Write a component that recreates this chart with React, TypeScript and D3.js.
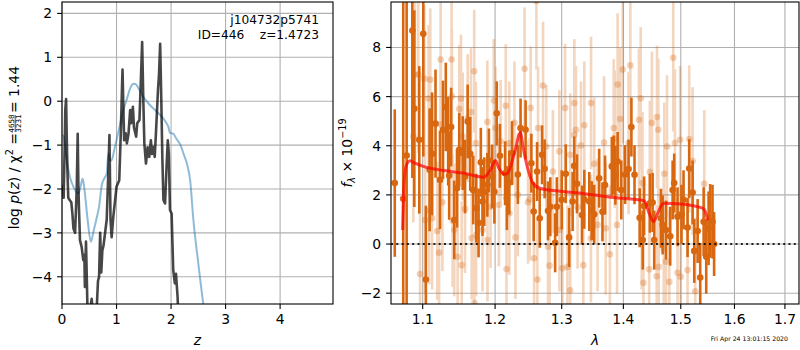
import React from "react";
import * as d3 from "d3";

// ---- left panel: log p(z) ----
const zBlack = [0.01, 0.03, 0.05, 0.06, 0.075, 0.085, 0.1, 0.115, 0.14, 0.17, 0.19, 0.21, 0.24, 0.255, 0.27, 0.288, 0.3, 0.31, 0.33, 0.36, 0.39, 0.41, 0.42, 0.44, 0.465, 0.49, 0.52, 0.545, 0.57, 0.6, 0.63, 0.66, 0.68, 0.7, 0.72, 0.74, 0.76, 0.8, 0.82, 0.85, 0.87, 0.89, 0.91, 0.94, 0.97, 1.0, 1.05, 1.08, 1.1, 1.11, 1.125, 1.14, 1.17, 1.19, 1.22, 1.25, 1.27, 1.3, 1.32, 1.36, 1.38, 1.42, 1.44, 1.47, 1.49, 1.51, 1.54, 1.57, 1.6, 1.63, 1.65, 1.68, 1.7, 1.72, 1.76, 1.78, 1.8, 1.82, 1.84, 1.86, 1.89, 1.92, 1.94, 1.96, 1.98, 2.01, 2.04, 2.07, 2.09, 2.12, 2.14];
const lnpBlack = [-1.9, -2.2, -1.0, -0.2, 0.05, -0.7, -1.6, -2.2, -2.25, -2.3, -2.55, -2.9, -3.0, -2.5, -2.0, -0.74, -1.9, -2.4, -3.17, -3.32, -3.62, -3.5, -4.23, -3.2, -4.6, -5.0, -4.7, -4.5, -4.9, -4.8, -4.9, -4.1, -4.0, -3.0, -3.9, -3.4, -3.3, -2.9, -2.7, -1.6, -0.77, -2.7, -3.1, -2.64, -2.3, -1.95, -1.8, -0.66, 0.3, 0.72, -0.13, -0.89, -0.73, -0.96, -0.74, -0.2, -0.5, -0.13, -0.6, -0.81, -0.5, -0.43, 0.25, 1.35, 0.1, -0.96, -1.42, -1.05, -1.27, -0.89, -1.2, -1.04, -1.27, -0.8, 0.25, 0.63, 1.31, 0.1, -1.27, -2.25, -2.33, -1.42, -0.89, -1.2, -2.48, -2.56, -3.85, -4.15, -3.93, -4.46, -5.2];

const zBlue = [0.01, 0.03, 0.086, 0.15, 0.21, 0.3, 0.34, 0.38, 0.42, 0.47, 0.53, 0.58, 0.64, 0.68, 0.73, 0.78, 0.82, 0.85, 0.88, 0.91, 0.96, 1.0, 1.06, 1.125, 1.19, 1.25, 1.29, 1.32, 1.36, 1.4, 1.49, 1.6, 1.74, 1.85, 1.92, 1.95, 1.98, 2.04, 2.1, 2.17, 2.23, 2.29, 2.35, 2.41, 2.5, 2.59, 2.7];
const lnpBlue = [-0.77, -0.8, -1.34, -1.75, -1.95, -2.1, -1.95, -1.76, -2.1, -2.7, -3.2, -2.95, -2.64, -2.4, -1.91, -1.75, -1.65, -1.19, -1.35, -1.34, -1.1, -0.89, -0.55, -0.2, 0.05, 0.29, 0.38, 0.4, 0.38, 0.3, 0.1, -0.07, -0.24, -0.38, -0.51, -0.58, -0.72, -0.74, -0.86, -0.99, -1.2, -1.42, -1.8, -2.71, -3.7, -4.61, -5.5];

const zTicks = [0, 1, 2, 3, 4];
const pTicks = [2, 1, 0, -1, -2, -3, -4];

// ---- right panel: spectrum ----
const darkWave = [1.0637, 1.0746, 1.079, 1.0864, 1.089, 1.0955, 1.1008, 1.1042, 1.1092, 1.1125, 1.1171, 1.1231, 1.1272, 1.131, 1.1342, 1.1356, 1.1383, 1.1425, 1.1463, 1.1494, 1.1542, 1.1574, 1.1611, 1.1647, 1.1689, 1.1731, 1.1764, 1.1796, 1.182, 1.1845, 1.1889, 1.1911, 1.1958, 1.199, 1.2024, 1.207, 1.2145, 1.2171, 1.2206, 1.2247, 1.2333, 1.2373, 1.2448, 1.2535, 1.257, 1.2621, 1.2661, 1.2697, 1.2736, 1.2788, 1.2823, 1.2898, 1.2924, 1.3, 1.3064, 1.3117, 1.3172, 1.3197, 1.3241, 1.3321, 1.3358, 1.3438, 1.3477, 1.3518, 1.3599, 1.3653, 1.3695, 1.3807, 1.3839, 1.3866, 1.3904, 1.3965, 1.403, 1.4088, 1.4136, 1.4189, 1.4277, 1.433, 1.4353, 1.4453, 1.4501, 1.4529, 1.4647, 1.4677, 1.4736, 1.4811, 1.4854, 1.4882, 1.4942, 1.5013, 1.505, 1.5123, 1.5153, 1.5215, 1.5245, 1.5307, 1.5355, 1.5418, 1.5466, 1.551, 1.5539, 1.5583, 1.5613];
const darkFlux = [2.48, 1.84, 3.6, 8.69, 5.51, 4.24, 8.56, -1.44, 3.02, 3.67, 4.9, 2.61, 4.65, 5.58, 4.18, 2.79, 4.76, 0.98, 2.27, 3.84, 3.7, 2.75, 4.99, 3.67, 2.2, 1.46, 0.86, 3.33, 1.73, 2.13, 2.41, 3.4, 2.75, 2.13, 5.32, 3.59, 2.88, 1.87, 2.5, 3.7, 2.83, 4.72, 4.65, 3.29, 1.32, 2.95, 1.05, 3.63, 3.06, 1.35, 1.52, 0.05, 1.52, 1.8, 2.86, 0.27, 1.73, 3.18, 2.45, 1.18, 1.82, 1.73, 1.36, 1.21, 2.68, 1.31, 2.4, 3.16, 3.22, 2.8, 3.36, 2.2, 2.83, 3.05, 4.76, 2.82, 1.07, 0.16, 1.55, 1.66, 1.69, 0.16, 1.05, 0.78, 0.57, 0.32, 2.2, 2.48, 1.11, 1.21, 1.8, 0.67, 3.07, 2.1, -0.28, 0.53, -1.36, 0.91, -0.52, 0.64, 0.94, 0.91, 0.0];
const darkErr = [3.0, 8, 7, 6, 4, 3, 5, 3, 2.5, 2.5, 2.2, 2, 2, 1.8, 1.8, 1.8, 1.6, 1.6, 1.6, 1.5, 1.5, 1.5, 1.5, 1.5, 1.4, 1.4, 1.4, 1.4, 1.4, 1.4, 1.3, 1.3, 1.3, 1.3, 1.3, 1.3, 1.3, 1.3, 1.3, 1.3, 1.2, 1.2, 1.2, 1.2, 1.2, 1.2, 1.2, 1.2, 1.2, 1.2, 1.2, 1.2, 1.2, 1.2, 1.2, 1.2, 1.2, 1.2, 1.2, 1.2, 1.2, 1.2, 1.2, 1.2, 1.2, 1.2, 1.2, 1.2, 1.2, 1.2, 1.2, 1.2, 1.2, 1.2, 1.2, 1.2, 1.2, 1.2, 1.2, 1.2, 1.2, 1.2, 1.2, 1.2, 1.2, 1.2, 1.2, 1.2, 1.2, 1.2, 1.2, 1.2, 1.2, 1.3, 1.3, 1.3, 1.4, 1.4, 1.5, 1.5, 1.5, 1.5, 1.3];

const lightWave = [1.0877, 1.0899, 1.0942, 1.0965, 1.1022, 1.1032, 1.1078, 1.1085, 1.1101, 1.1125, 1.1194, 1.1219, 1.124, 1.1242, 1.1264, 1.1389, 1.1393, 1.1403, 1.1425, 1.1472, 1.1494, 1.1518, 1.1528, 1.1542, 1.1574, 1.1611, 1.1657, 1.1667, 1.1703, 1.1705, 1.1726, 1.1728, 1.182, 1.1889, 1.1891, 1.1935, 1.1981, 1.2005, 1.2055, 1.208, 1.2155, 1.2166, 1.2206, 1.2208, 1.2282, 1.2297, 1.2333, 1.2433, 1.2485, 1.2509, 1.2524, 1.2576, 1.2611, 1.2626, 1.2636, 1.2712, 1.2762, 1.2788, 1.2812, 1.2863, 1.2963, 1.2965, 1.3011, 1.3053, 1.309, 1.3133, 1.3135, 1.3197, 1.3199, 1.3224, 1.3251, 1.3305, 1.3342, 1.3358, 1.3465, 1.3467, 1.3518, 1.3573, 1.3679, 1.3706, 1.3775, 1.3839, 1.3855, 1.3894, 1.3904, 1.3947, 1.399, 1.4088, 1.4118, 1.4265, 1.4295, 1.4312, 1.4325, 1.4342, 1.4441, 1.4453, 1.4489, 1.4572, 1.4577, 1.46, 1.4607, 1.4695, 1.4706, 1.4736, 1.4754, 1.4794, 1.4865, 1.4895, 1.4942, 1.4988, 1.5, 1.5123, 1.5153, 1.5215, 1.5263, 1.5429];
const lightFlux = [4.38, 6.9, 6.9, -1.22, 6.73, 0.98, 5.92, 1.36, 6.69, 1.05, 0.53, -0.35, 7.51, 4.86, 1.7, 7.51, 6.01, 0.95, 0.57, -0.52, 5.5, 5.92, -0.86, 4.38, 1.42, 5.13, 5.37, 0.24, 7.03, -2.4, 4.11, 0.37, 0.57, 4.97, 0.16, 1.52, 5.84, 4.72, 1.59, 4.18, 5.63, -1.02, 4.11, 1.25, 4.93, 0.27, 2.0, 7.13, 1.7, 1.82, 5.54, -0.58, 9.89, -1.44, 4.72, 6.45, 3.97, -0.11, -0.88, 2.95, 3.77, 0.57, -0.99, 5.54, -0.93, -1.88, 3.63, 4.45, 5.74, 4.65, 1.5, 4.01, -0.86, 4.83, 0.23, 5.74, 3.27, 0.78, 4.13, 0.64, -0.42, 4.72, 4.27, 0.78, 6.49, 5.09, 7.1, 4.11, 7.27, 5.06, 5.93, 1.05, 2.48, -1.58, -1.03, 2.93, 4.93, -1.31, 5.17, 4.65, -0.93, -0.19, 2.86, -0.72, 3.97, -1.54, 7.58, 4.11, -1.17, 4.24, -1.33, -1.06, 4.27, 3.38, -1.92, 2.45];
const lightErr = [3.5, 3.5, 3.2, 3.2, 3.0, 3.0, 3.0, 3.0, 2.9, 2.9, 2.8, 2.8, 2.8, 2.8, 2.8, 2.7, 2.7, 2.7, 2.7, 2.6, 2.6, 2.6, 2.6, 2.6, 2.6, 2.6, 2.6, 2.5, 2.5, 2.5, 2.5, 2.5, 2.5, 2.5, 2.5, 2.5, 2.5, 2.5, 2.5, 2.5, 2.5, 2.5, 2.5, 2.5, 2.5, 2.5, 2.5, 2.5, 2.5, 2.5, 2.5, 2.5, 2.8, 2.5, 2.5, 2.6, 2.5, 2.5, 2.5, 2.5, 2.5, 2.5, 2.5, 2.6, 2.5, 2.5, 2.5, 2.6, 2.6, 2.6, 2.5, 2.6, 2.6, 2.6, 2.6, 2.7, 2.7, 2.7, 2.7, 2.7, 2.8, 2.8, 2.8, 2.8, 2.9, 2.9, 3.0, 2.9, 3.0, 2.9, 2.9, 2.9, 2.9, 2.9, 2.9, 2.9, 2.9, 2.9, 2.9, 2.9, 2.9, 2.9, 2.9, 2.9, 2.9, 2.9, 3.0, 3.0, 3.0, 3.0, 3.0, 3.0, 3.0, 3.0, 3.0, 3.0];

const modelWave = [1.0738, 1.0755, 1.0781, 1.0834, 1.0899, 1.1008, 1.1286, 1.1564, 1.1834, 1.1935, 1.2005, 1.2055, 1.213, 1.2182, 1.2282, 1.2373, 1.2409, 1.2485, 1.256, 1.2661, 1.2939, 1.3305, 1.3839, 1.4353, 1.4441, 1.4518, 1.4589, 1.4647, 1.4706, 1.5, 1.5399, 1.546, 1.5491];
const modelFlux = [0.57, 2.34, 3.16, 3.39, 3.29, 3.16, 2.99, 2.88, 2.72, 3.02, 3.4, 3.09, 2.84, 2.88, 3.7, 4.55, 3.97, 3.02, 2.48, 2.27, 2.16, 2.07, 1.89, 1.76, 1.25, 0.91, 1.25, 1.55, 1.66, 1.63, 1.46, 1.25, 0.98];

const lamTicks = [1.1, 1.2, 1.3, 1.4, 1.5, 1.6, 1.7];
const fTicks = [-2, 0, 2, 4, 6, 8];

const FONT = "DejaVu Sans, sans-serif";
const ORANGE = "#d8670f";
const fmt = (v: number) => (v < 0 ? "\u2212" + Math.abs(v) : String(v));

export default function App() {
  const L = { left: 62, right: 333, top: 2, bottom: 304 };
  const R = { left: 391, right: 799, top: 2, bottom: 304 };

  const zx = d3.scaleLinear().domain([0, 4.97]).range([L.left, L.right]);
  const py = d3.scaleLinear().domain([-4.62, 2.26]).range([L.bottom, L.top]);
  const lx = d3.scaleLog().domain([1.0589, 1.729]).range([R.left, R.right]);
  const fy = d3.scaleLinear().domain([-2.44, 9.85]).range([R.bottom, R.top]);

  const blackLine = d3.line<number>().x((d, i) => zx(zBlack[i])).y((d) => py(d));
  const blueLine = d3.line<number>().x((d, i) => zx(zBlue[i])).y((d) => py(d)).curve(d3.curveMonotoneX);
  const modelLine = d3.line<number>().x((d, i) => lx(modelWave[i])).y((d) => fy(d)).curve(d3.curveMonotoneX);

  const tickLen = 4.9;

  return (
    <div style={{ position: "absolute", left: 0, top: 0 }}>
      <svg width={800} height={350} style={{ display: "block" }} fontFamily={FONT}>
        <defs>
          <clipPath id="clipL">
            <rect x={L.left} y={L.top} width={L.right - L.left} height={L.bottom - L.top} />
          </clipPath>
          <clipPath id="clipR">
            <rect x={R.left} y={R.top} width={R.right - R.left} height={R.bottom - R.top} />
          </clipPath>
        </defs>

        {/* left panel */}
        <g>
          {zTicks.map((t) => (
            <line key={"gzx" + t} x1={zx(t)} x2={zx(t)} y1={L.top} y2={L.bottom} stroke="#b0b0b0" strokeWidth={1.1} />
          ))}
          {pTicks.map((t) => (
            <line key={"gpy" + t} x1={L.left} x2={L.right} y1={py(t)} y2={py(t)} stroke="#b0b0b0" strokeWidth={1.1} />
          ))}
          <g clipPath="url(#clipL)">
            <path d={blueLine(lnpBlue) || ""} fill="none" stroke="#1f77b4" strokeOpacity={0.5} strokeWidth={2} />
            <path d={blackLine(lnpBlack) || ""} fill="none" stroke="#000" strokeOpacity={0.72} strokeWidth={2.6} strokeLinejoin="round" />
          </g>
          <rect x={L.left} y={L.top} width={L.right - L.left} height={L.bottom - L.top} fill="none" stroke="#000" strokeWidth={1.1} />
          {zTicks.map((t) => (
            <g key={"tzx" + t}>
              <line x1={zx(t)} x2={zx(t)} y1={L.bottom} y2={L.bottom + tickLen} stroke="#000" strokeWidth={1.1} />
              <text x={zx(t)} y={L.bottom + 19.5} fontSize={13.9} textAnchor="middle">{fmt(t)}</text>
            </g>
          ))}
          {pTicks.map((t) => (
            <g key={"tpy" + t}>
              <line x1={L.left - tickLen} x2={L.left} y1={py(t)} y2={py(t)} stroke="#000" strokeWidth={1.1} />
              <text x={L.left - 9.8} y={py(t) + 5} fontSize={13.9} textAnchor="end">{fmt(t)}</text>
            </g>
          ))}
          <text x={(L.left + L.right) / 2} y={345} fontSize={13.9} textAnchor="middle" fontStyle="italic">z</text>
          <text x={319} y={24} fontSize={12.2} textAnchor="end">j104732p5741</text>
          <text x={319} y={39} fontSize={12.2} textAnchor="end" xmlSpace="preserve">{"ID=446    z=1.4723"}</text>
          <g transform="translate(18.5,0) rotate(-90)" fontSize={13.9}>
            <text x={-133} y={0} textAnchor="end">
              log <tspan fontStyle="italic">p</tspan>(<tspan fontStyle="italic">z</tspan>) / χ<tspan fontSize={9.7} dy={-5.5}>2</tspan><tspan dy={5.5}> =</tspan>
            </text>
            <text x={-123.5} y={-4.2} fontSize={7.2} textAnchor="middle">4658</text>
            <line x1={-132} x2={-115} y1={-3.3} y2={-3.3} stroke="#000" strokeWidth={0.7} />
            <text x={-123.5} y={2.2} fontSize={7.2} textAnchor="middle">3231</text>
            <text x={-113} y={0} textAnchor="start">= 1.44</text>
          </g>
        </g>

        {/* right panel */}
        <g>
          {lamTicks.map((t) => (
            <line key={"glx" + t} x1={lx(t)} x2={lx(t)} y1={R.top} y2={R.bottom} stroke="#b0b0b0" strokeWidth={1.1} />
          ))}
          {fTicks.map((t) => (
            <line key={"gfy" + t} x1={R.left} x2={R.right} y1={fy(t)} y2={fy(t)} stroke="#b0b0b0" strokeWidth={1.1} />
          ))}
          <g clipPath="url(#clipR)">
            <g opacity={0.27}>
              {lightWave.map((w, i) => (
                <g key={"lp" + i}>
                  <line x1={lx(w)} x2={lx(w)} y1={fy(lightFlux[i] - lightErr[i])} y2={fy(lightFlux[i] + lightErr[i])} stroke={ORANGE} strokeWidth={2.6} />
                </g>
              ))}
            </g>
            {lightWave.map((w, i) => (
              <circle key={"lc" + i} cx={lx(w)} cy={fy(lightFlux[i])} r={3.3} fill={ORANGE} fillOpacity={0.3} />
            ))}
            {darkWave.map((w, i) => (
              <line key={"dp" + i} x1={lx(w)} x2={lx(w)} y1={fy(darkFlux[i] - darkErr[i])} y2={fy(darkFlux[i] + darkErr[i])} stroke={ORANGE} strokeWidth={2.6} />
            ))}
            {darkWave.map((w, i) => (
              <circle key={"dc" + i} cx={lx(w)} cy={fy(darkFlux[i])} r={3.3} fill={ORANGE} />
            ))}
            <path d={modelLine(modelFlux) || ""} fill="none" stroke="red" strokeOpacity={0.7} strokeWidth={3} strokeLinejoin="round" />
            <line x1={R.left} x2={R.right} y1={fy(0)} y2={fy(0)} stroke="#000" strokeWidth={2} strokeDasharray="2,3.3" strokeOpacity={0.85} />
          </g>
          <rect x={R.left} y={R.top} width={R.right - R.left} height={R.bottom - R.top} fill="none" stroke="#000" strokeWidth={1.1} />
          {lamTicks.map((t) => (
            <g key={"tlx" + t}>
              <line x1={lx(t)} x2={lx(t)} y1={R.bottom} y2={R.bottom + tickLen} stroke="#000" strokeWidth={1.1} />
              <text x={lx(t)} y={R.bottom + 19.5} fontSize={13.9} textAnchor="middle">{d3.format(".1f")(t)}</text>
            </g>
          ))}
          {fTicks.map((t) => (
            <g key={"tfy" + t}>
              <line x1={R.left - tickLen} x2={R.left} y1={fy(t)} y2={fy(t)} stroke="#000" strokeWidth={1.1} />
              <text x={R.left - 9.8} y={fy(t) + 5} fontSize={13.9} textAnchor="end">{fmt(t)}</text>
            </g>
          ))}
          <text x={595} y={345} fontSize={13.9} textAnchor="middle" fontStyle="italic">λ</text>
          <g transform="translate(352,153) rotate(-90)" fontSize={13.9}>
            <text x={0} y={0} textAnchor="middle">
              <tspan fontStyle="italic">f</tspan><tspan fontSize={9.7} dy={3} fontStyle="italic">λ</tspan><tspan dy={-3}> × 10</tspan><tspan fontSize={9.7} dy={-6}>−19</tspan>
            </text>
          </g>
          <text x={788} y={341} fontSize={6.2} textAnchor="end">Fri Apr 24 13:01:15 2020</text>
        </g>
      </svg>
    </div>
  );
}
